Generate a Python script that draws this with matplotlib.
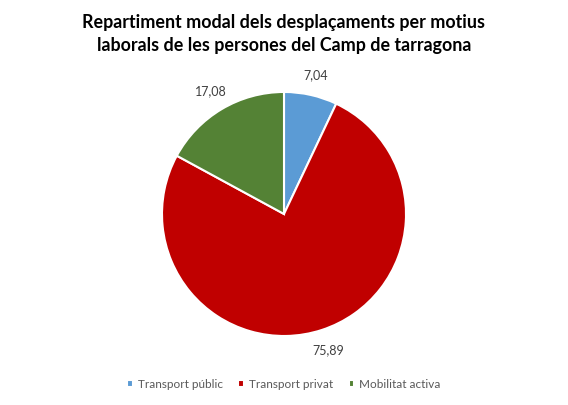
import matplotlib
matplotlib.use("Agg")
import matplotlib.pyplot as plt

plt.rcParams['font.family'] = ['Lato', 'DejaVu Sans']

# data
categories = ["Transport públic", "Transport privat", "Mobilitat activa"]
values = [7.04, 75.89, 17.08]
colors = ["#5B9BD5", "#C00000", "#548235"]
value_labels = [f"{v:.2f}".replace(".", ",") for v in values]

fig = plt.figure(figsize=(5.68, 4.05), dpi=100)
ax = fig.add_axes([0.2852, 0.1704, 0.4296, 0.6025])

wedges, texts = ax.pie(values, colors=colors, startangle=90, counterclock=False,
                       labels=value_labels, labeldistance=1.17,
                       wedgeprops=dict(edgecolor="white", linewidth=1.5))
for t in texts:
    t.set_fontsize(9)
    t.set_color("#404040")
    t.set_ha("center")
ax.set_xlim(-1, 1)
ax.set_ylim(-1, 1)
ax.set_aspect("equal")

fig.suptitle("Repartiment modal dels desplaçaments per motius\nlaborals de les persones del Camp de tarragona",
             fontsize=12.9, fontweight="bold", y=0.965, linespacing=1.45)

fig.legend(wedges, categories, loc="lower center", bbox_to_anchor=(0.5, 0.012), ncol=3,
           frameon=False, fontsize=8.5, handlelength=0.5, handleheight=0.5,
           handletextpad=0.4, columnspacing=1.3, labelcolor="#595959")

fig.savefig("out.png", dpi=100)
